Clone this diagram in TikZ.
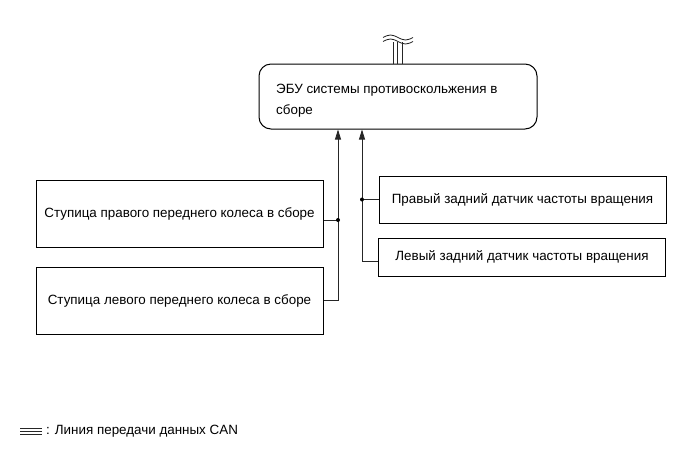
\documentclass[tikz,border=0pt]{standalone}
\usepackage{fontspec}
\setmainfont{Liberation Sans}
\usetikzlibrary{arrows.meta}

\begin{document}
\begin{tikzpicture}[x=1pt,y=-1pt,>={Stealth[length=10pt,width=6pt,inset=0pt]},
    box/.style={draw,line width=1pt,minimum width=287pt,inner sep=0pt,font=\fontsize{13.4}{15}\selectfont},
    wire/.style={line width=0.8pt,draw=black!85}]
  \useasboundingbox (0,0) rectangle (691,467);
  \node[draw,line width=1pt,rounded corners=12pt,minimum width=278pt,minimum height=65pt] (ecu) at (398,96.5) {};
  \node[anchor=west,align=left,inner sep=0pt,font=\fontsize{13.4}{21}\selectfont] (ecutxt) at (276,101) {ЭБУ системы противоскольжения в\\сборе};
  \node[box,minimum height=67pt] (b1) at (179.5,213.5) {Ступица правого переднего колеса в сборе};
  \node[box,minimum height=67pt] (b2) at (179.5,300.5) {Ступица левого переднего колеса в сборе};
  \node[box,minimum height=47pt] (b3) at (522.5,199.5) {Правый задний датчик частоты вращения};
  \node[box,minimum height=38pt] (b4) at (522,257) {Левый задний датчик частоты вращения};
  \coordinate (j1) at (338,220);
  \coordinate (j2) at (362,199.5);
  \coordinate (k4) at (362,261);
  \draw[wire,->] (b2.east) -| (j1 |- ecu.south);
  \draw[wire] (b1.east |- j1) -- (j1);
  \draw[wire,->] (k4 -| b4.west) -| (j2 |- ecu.south);
  \draw[wire] (b3.west) -- (j2);
  \fill (j1) circle (2pt);
  \fill (j2) circle (2pt);
  \foreach \x in {393,397.5,402}
    \draw[wire] (\x,42) -- (ecu.north -| \x,0);
  \draw[wire] (383,37.5) sin (390.5,35) cos (398,37.5) sin (405.5,40) cos (413,37.5);
  \draw[wire] (383,41.5) sin (390.5,39) cos (398,41.5) sin (405.5,44) cos (413,41.5);
  \foreach \y in {428,431,434}
    \draw[wire] (20,\y) -- (42,\y);
  \node[anchor=west,inner sep=0pt,font=\fontsize{13.4}{15}\selectfont] (leg) at (46,431) {: Линия передачи данных CAN};
\end{tikzpicture}
\end{document}
